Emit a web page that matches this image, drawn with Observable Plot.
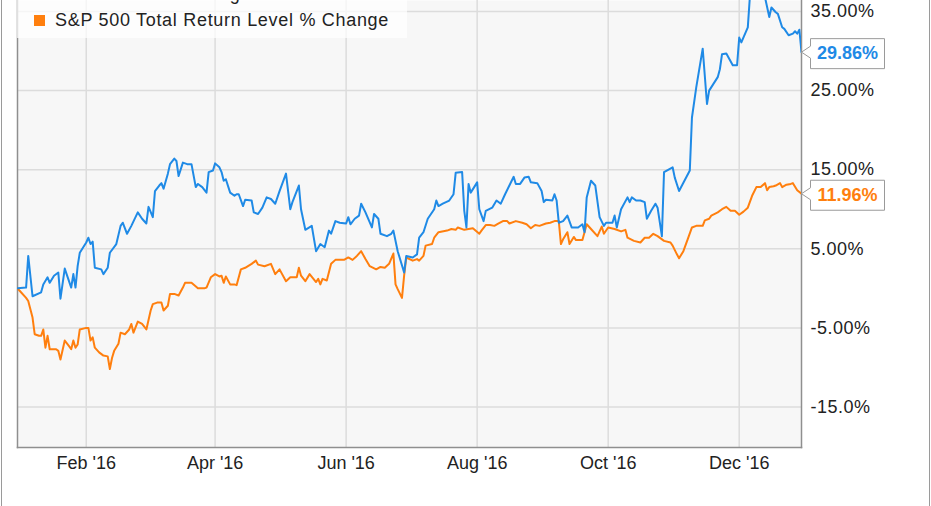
<!DOCTYPE html>
<html><head><meta charset="utf-8">
<script src="https://cdn.jsdelivr.net/npm/d3@7"></script>
<script src="https://cdn.jsdelivr.net/npm/@observablehq/plot@0.6"></script>
<style>
html,body{margin:0;padding:0;background:#fff;}
#wrap{position:relative;width:931px;height:506px;overflow:hidden;font-family:"Liberation Sans",Arial,sans-serif;}
#legend{position:absolute;left:17px;top:0;width:390px;height:38px;background:rgba(255,255,255,0.72);}
.item{position:absolute;left:17px;height:20px;font-size:18px;letter-spacing:0.7px;color:#222;white-space:nowrap;}
.sw{position:absolute;left:0;top:5px;width:11px;height:11px;}
.lbl{position:absolute;left:21px;top:0;line-height:20px;}
.vline{position:absolute;top:0;width:1px;height:506px;background:#9a9a9a;}
.ytick{letter-spacing:0.5px;}
</style></head><body><div id="wrap"></div>
<script>
// ---- data ----
const seriesNames = ["Stock Level % Change", "S&P 500 Total Return Level % Change"];
const seriesColors = ["#1f8ae6", "#ff7f0e"];
const startDate = "2015-12-31"; // day 0
const blueDays = [
  0,4,5,7,11,12,14,15,17,19,
  20,22,25,26,27,28,29,32,33,34,
  35,36,39,40,42,43,46,48,49,51,
  53,56,58,60,61,63,64,66,67,68,
  70,71,73,74,75,77,79,81,83,84,
  86,88,89,91,92,94,95,96,97,99,
  101,102,103,105,106,109,110,112,114,116,
  118,120,122,125,127,128,131,132,134,137,
  139,141,143,145,146,148,150,153,154,155,
  157,159,160,162,165,166,168,169,172,174,
  175,177,180,181,184,186,187,189,191,194,
  195,196,198,201,203,204,207,208,209,210,
  211,214,215,217,218,221,223,225,227,229,
  231,232,234,236,238,239,242,244,245,246,
  249,250,251,252,254,256,258,261,263,264,
  265,267,269,271,273,274,277,278,279,281,
  284,285,286,288,290,292,293,295,297,298,
  300,301,305,306,308,313,314,316,319,321,
  322,326,327,328,330,333,335,336,337,340,
  341,343,346,348,350,351,353,354,356,357,
  359,361,362,363,364,365
];
const blueValues = [
  0,0.1,4.1,-1.0,-0.5,0.5,1.4,0.7,1.6,2.0,
  -1.3,2.5,0.1,1.8,0.1,2.8,4.5,5.8,6.4,5.6,
  5.9,2.6,2.4,1.8,2.6,4.5,5.6,7.9,8.3,6.9,
  7.9,9.6,8.8,8.2,10.3,9.0,12.3,13.0,13.3,12.6,
  14.5,15.7,16.4,16.1,14.2,15.9,15.7,15.7,12.8,13.2,
  12.8,12.1,14.7,14.9,15.8,15.3,14.7,13.6,13.8,12.1,
  11.7,11.9,11.9,10.4,11.2,11.1,9.6,9.4,10.2,11.5,
  11.3,10.7,12.3,14.5,10.0,10.9,13.0,10.0,7.4,7.9,
  4.7,5.6,5.2,7.3,6.9,8.5,8.3,8.2,9.0,8.1,
  8.8,9.2,10.7,9.6,7.7,9.4,8.8,6.9,6.6,6.9,
  7.3,4.7,2.0,4.1,3.9,4.3,6.4,7.1,8.8,10.0,
  11.1,10.4,10.7,11.1,11.9,14.6,14.7,9.8,7.7,13.2,
  12.1,13.4,10.0,8.5,9.8,10.2,11.1,10.7,11.9,13.0,
  14.1,13.2,13.2,14.0,14.1,13.4,13.3,12.3,10.9,11.2,
  11.1,11.9,11.1,8.3,8.5,9.2,7.7,7.7,8.1,7.1,
  11.5,13.6,13.0,9.0,7.9,8.3,8.3,9.2,7.7,10.0,
  11.5,10.9,11.5,11.1,11.1,10.9,8.8,9.8,10.7,10.2,
  6.6,14.7,15.3,14.0,12.3,14.9,21.6,25.4,30.3,23.3,
  25.0,26.7,27.7,29.6,29.7,28.2,28.2,31.7,31.1,33.0,
  37.0,38.0,37.6,36.8,34.3,35.5,34.9,34.7,33.0,32.8,
  32.0,32.2,32.5,32.2,32.7,29.86
];
const orangeDays = [
  0,1,4,5,7,8,10,11,12,13,
  14,15,18,19,20,22,24,25,26,27,
  28,29,32,33,34,35,36,38,40,42,
  43,44,45,47,48,50,52,53,54,56,
  58,60,62,63,65,67,68,70,71,73,
  75,77,78,81,84,87,88,90,92,94,
  95,96,97,99,101,102,104,106,109,111,
  112,115,118,120,122,125,127,130,131,132,
  134,136,139,140,141,142,144,146,148,152,
  154,156,158,160,162,164,167,169,171,173,
  175,176,177,179,180,181,184,186,187,189,
  190,193,194,196,200,202,204,205,208,210,
  212,215,216,218,220,222,224,226,228,229,
  232,235,237,239,241,243,246,248,250,252,
  253,254,256,257,259,260,263,265,267,270,
  272,273,275,278,281,283,284,287,290,292,
  294,296,298,301,304,305,307,308,310,312,
  314,316,319,320,322,323,326,328,330,332,
  334,336,338,340,342,344,346,348,349,350,
  352,353,355,356,358,360,361,363,365
];
const orangeValues = [
  0,-0.3,-1.2,-1.6,-3.7,-5.8,-6.0,-6.0,-5.2,-7.5,
  -6.0,-7.7,-7.7,-7.9,-9.0,-6.6,-7.3,-7.7,-6.6,-7.5,
  -7.1,-5.2,-5.0,-5.0,-6.6,-6.2,-7.5,-8.1,-8.5,-8.6,
  -10.2,-8.8,-7.9,-7.0,-5.6,-5.8,-5.2,-4.5,-5.6,-4.2,
  -4.5,-5.2,-2.8,-2.0,-1.8,-1.8,-2.8,-2.2,-0.7,-0.7,
  -0.9,0.1,0.7,0.7,0.0,0.0,0.1,1.4,1.8,1.5,
  1.6,0.7,1.5,0.5,0.5,0.4,2.4,2.6,3.1,3.5,
  3.0,2.8,3.1,1.8,2.4,0.9,1.4,1.4,2.6,1.6,
  0.9,1.8,0.8,1.2,0.5,1.2,1.0,3.1,3.6,3.6,
  3.9,3.6,4.1,4.7,3.7,2.8,2.4,2.7,2.6,3.1,
  4.4,0.5,-0.1,-1.2,1.6,3.9,3.5,3.7,3.5,4.1,
  5.4,5.6,6.4,7.1,7.3,7.5,7.4,7.7,7.4,7.5,
  7.6,6.9,7.3,8.0,8.0,7.9,8.2,8.5,8.5,8.2,
  8.5,8.3,8.1,7.6,8.0,7.9,8.2,8.3,8.5,8.5,
  5.6,6.2,7.1,5.6,6.5,6.1,6.1,8.1,7.5,6.6,
  7.8,6.9,7.7,7.5,7.2,7.4,6.4,6.0,5.8,6.4,
  6.4,6.9,6.6,6.0,5.8,5.4,4.3,3.8,4.7,6.2,
  7.7,7.9,7.9,8.6,8.8,9.2,9.6,10.0,10.3,9.8,
  9.8,9.3,9.7,10.2,11.7,12.8,12.8,13.3,12.4,12.8,
  12.9,13.0,13.3,12.8,13.1,13.2,13.3,12.4,11.96
];
const yTicks = [35, 25, 15, 5, -5, -15];
const yTickLabels = ["35.00%", "25.00%", "15.00%", "5.00%", "-5.00%", "-15.0%"];
const xTickDates = ["2016-02-01", "2016-04-01", "2016-06-01", "2016-08-01", "2016-10-01", "2016-12-01"];
const xTickLabels = ["Feb '16", "Apr '16", "Jun '16", "Aug '16", "Oct '16", "Dec '16"];

// ---- build ----
const day0 = new Date(startDate + "T00:00:00Z");
const toDate = d => new Date(day0.getTime() + d * 864e5);
const rows = [];
blueDays.forEach((d, i) => rows.push({s: 0, date: toDate(d), v: blueValues[i]}));
orangeDays.forEach((d, i) => rows.push({s: 1, date: toDate(d), v: orangeValues[i]}));
const ends = [
  {s: 0, date: toDate(blueDays[blueDays.length - 1]), v: blueValues[blueValues.length - 1]},
  {s: 1, date: toDate(orangeDays[orangeDays.length - 1]), v: orangeValues[orangeValues.length - 1]}
];
const xt = xTickDates.map(s => new Date(s + "T00:00:00Z"));
const xLabelOf = new Map(xt.map((d, i) => [d.getTime(), xTickLabels[i]]));
const yLabelOf = new Map(yTicks.map((t, i) => [t, yTickLabels[i]]));

const callout = {
  draw(ctx) {
    ctx.moveTo(0, 0);
    ctx.lineTo(9, -6);
    ctx.lineTo(9, -13.5);
    ctx.lineTo(83, -13.5);
    ctx.lineTo(83, 16.5);
    ctx.lineTo(9, 16.5);
    ctx.lineTo(9, 6);
    ctx.closePath();
  }
};

const chart = Plot.plot({
  width: 931, height: 506,
  marginTop: 0, marginLeft: 17, marginRight: 130, marginBottom: 59,
  style: {fontFamily: "'Liberation Sans', Arial, sans-serif", fontSize: "18px", color: "#333", background: "transparent", overflow: "visible"},
  x: {type: "utc", domain: [toDate(0), toDate(365)], label: null},
  y: {domain: [-20.12, 36.39], label: null},
  marks: [
    Plot.frame({fill: "#f7f7f7"}),
    Plot.ruleY(yTicks, {stroke: "#dcdcdc", strokeWidth: 1.5}),
    Plot.ruleX(xt, {stroke: "#dcdcdc", strokeWidth: 1.5}),
    Plot.frame({anchor: "left", stroke: "#8f8f8f", strokeWidth: 1.5}),
    Plot.frame({anchor: "right", stroke: "#8f8f8f", strokeWidth: 1.5}),
    Plot.frame({anchor: "bottom", stroke: "#8f8f8f", strokeWidth: 1.5}),
    Plot.lineY(rows.filter(r => r.s === 1), {x: "date", y: "v", stroke: seriesColors[1], strokeWidth: 2, clip: true}),
    Plot.lineY(rows.filter(r => r.s === 0), {x: "date", y: "v", stroke: seriesColors[0], strokeWidth: 2, clip: true}),
    Plot.axisY(yTicks, {anchor: "right", label: null, tickSize: 0, tickPadding: 9, tickFormat: d => yLabelOf.get(d), fill: "#222", fontSize: 18, className: "ytick"}),
    Plot.axisX(xt, {anchor: "bottom", label: null, tickSize: 0, tickPadding: 9, tickFormat: d => xLabelOf.get(d.getTime()), fill: "#222", fontSize: 18}),
    Plot.dot(ends, {x: "date", y: "v", symbol: callout, r: 5, fill: "white", stroke: "#9a9a9a", strokeWidth: 1}),
    Plot.text(ends, {x: "date", y: "v", text: d => d3.format(".2f")(d.v) + "%", dx: 46, dy: 1.5, fill: d => seriesColors[d.s], fontWeight: "bold", fontSize: 18, textAnchor: "middle"})
  ]
});

const wrap = document.getElementById("wrap");
wrap.appendChild(chart);
const legend = document.createElement("div");
legend.id = "legend";
seriesNames.forEach((name, i) => {
  const it = document.createElement("div");
  it.className = "item";
  it.style.top = (i === 0 ? -16 : 10) + "px";
  const sw = document.createElement("div");
  sw.className = "sw";
  sw.style.background = seriesColors[i];
  const lb = document.createElement("div");
  lb.className = "lbl";
  lb.textContent = name;
  it.appendChild(sw); it.appendChild(lb);
  legend.appendChild(it);
});
wrap.appendChild(legend);
[1, 929].forEach(x => {
  const v = document.createElement("div");
  v.className = "vline";
  v.style.left = x + "px";
  wrap.appendChild(v);
});
</script>
</body></html>
